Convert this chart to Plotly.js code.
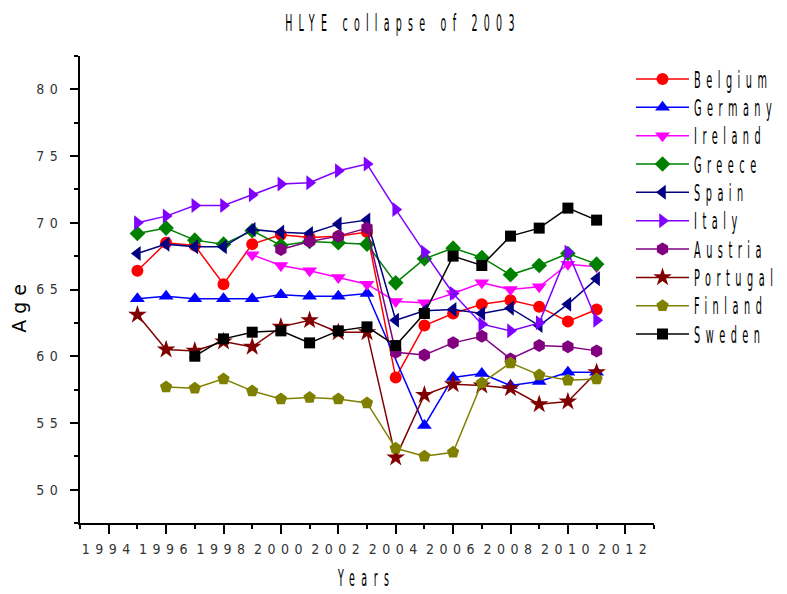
<!DOCTYPE html>
<html>
<head>
<meta charset="utf-8">
<script src="https://cdn.plot.ly/plotly-3.0.1.min.js"></script>
<style>
  html, body { margin: 0; padding: 0; background: #fff; }
  #chart { width: 787px; height: 594px; }
  .main-svg text.gtitle {
    letter-spacing: 12.5px;
    transform-box: fill-box; transform-origin: center;
    transform: scale(0.5, 1.2);
  }
  .main-svg text.legendtext {
    letter-spacing: 11px;
    transform-box: fill-box; transform-origin: left center;
    transform: scale(0.5, 1.17);
  }
  .main-svg text.xtitle {
    letter-spacing: 13px;
    transform-box: fill-box; transform-origin: center;
    transform: scale(0.5, 1.2);
  }
  .main-svg text.ytitle {
    letter-spacing: 6px;
    transform-box: fill-box; transform-origin: center;
    transform: translate(-3px, 23px) rotate(-90deg);
  }
  .main-svg .xtick text, .main-svg .ytick text { letter-spacing: 5.5px; }
</style>
</head>
<body>
<div id="chart"></div>
<script>
const years = [1995, 1996, 1997, 1998, 1999, 2000, 2001, 2002, 2003, 2004, 2005, 2006, 2007, 2008, 2009, 2010, 2011];

const belgium  = [66.4, 68.5, 68.3, 65.4, 68.4, 69.1, 68.9, 69.0, 69.3, 58.4, 62.3, 63.2, 63.9, 64.2, 63.7, 62.6, 63.5];
const germany  = [64.3, 64.5, 64.3, 64.3, 64.3, 64.6, 64.5, 64.5, 64.7, null, 54.8, 58.4, 58.7, 57.8, 58.1, 58.8, 58.8];
const ireland  = [null, null, null, null, 67.6, 66.8, 66.4, 65.9, 65.4, 64.1, 64.0, 64.7, 65.5, 65.0, 65.2, 66.9, 66.7];
const greece   = [69.2, 69.6, 68.7, 68.4, 69.4, 68.3, 68.6, 68.5, 68.4, 65.5, 67.3, 68.1, 67.4, 66.1, 66.8, 67.7, 66.9];
const spain    = [67.7, 68.4, 68.2, 68.2, 69.5, 69.3, 69.2, 69.9, 70.2, 62.7, 63.4, 63.5, 63.2, 63.6, 62.3, 63.9, 65.8];
const italy    = [70.0, 70.5, 71.3, 71.3, 72.1, 72.9, 73.0, 73.9, 74.4, 71.0, 67.8, 64.7, 62.4, 61.9, 62.5, 67.8, 62.7];
const austria  = [null, null, null, null, null, 68.0, 68.6, 69.0, 69.6, 60.3, 60.1, 61.0, 61.5, 59.8, 60.8, 60.7, 60.4];
const portugal = [63.1, 60.5, 60.4, 61.1, 60.7, 62.2, 62.7, 61.8, 61.8, 52.4, 57.1, 57.9, 57.8, 57.6, 56.4, 56.6, 58.8];
const finland  = [null, 57.7, 57.6, 58.3, 57.4, 56.8, 56.9, 56.8, 56.5, 53.1, 52.5, 52.8, 58.0, 59.5, 58.6, 58.2, 58.3];
const sweden   = [null, null, 60.0, 61.3, 61.8, 61.9, 61.0, 61.9, 62.2, 60.8, 63.2, 67.5, 66.8, 69.0, 69.6, 71.1, 70.2];

const seriesNames = ["Belgium", "Germany", "Ireland", "Greece", "Spain", "Italy", "Austria", "Portugal", "Finland", "Sweden"];
const seriesValues = [belgium, germany, ireland, greece, spain, italy, austria, portugal, finland, sweden];
const colors = ["#FF0000", "#0000FF", "#FF00FF", "#008000", "#000080", "#8000FF", "#800080", "#800000", "#808000", "#000000"];
const symbols = ["circle", "triangle-up", "triangle-down", "diamond", "triangle-left", "triangle-right", "hexagon", "star", "pentagon", "square"];
const sizes = [12, 13, 13, 12, 13, 13, 13, 14, 13, 11];

const xTickVals = [1994, 1996, 1998, 2000, 2002, 2004, 2006, 2008, 2010, 2012];
const yTickVals = [50, 55, 60, 65, 70, 75, 80];

const FONT = '"DejaVu Sans", sans-serif';
const TICKFONT = '"DejaVu Sans Condensed", "DejaVu Sans", sans-serif';

const traces = seriesNames.map((name, i) => ({
  type: 'scatter',
  mode: 'lines+markers',
  name: name,
  x: years,
  y: seriesValues[i],
  connectgaps: true,
  line: { color: colors[i], width: 1.5 },
  marker: { color: colors[i], symbol: symbols[i], size: sizes[i], line: { width: 0 } },
  legendgroup: name
}));

const layout = {
  width: 787,
  height: 594,
  paper_bgcolor: '#ffffff',
  plot_bgcolor: '#ffffff',
  margin: { l: 80, r: 133, t: 56, b: 71, autoexpand: false },
  font: { family: FONT, color: '#000000', size: 14 },
  title: {
    text: 'HLYE collapse of 2003',
    font: { family: FONT, size: 19, color: '#000000' },
    x: 0.512, xref: 'container', xanchor: 'center',
    y: 0.962, yref: 'container', yanchor: 'middle'
  },
  showlegend: true,
  legend: {
    xref: 'container', x: 0.8018, xanchor: 'left',
    yref: 'container', y: 0.8994, yanchor: 'top',
    bgcolor: 'rgba(0,0,0,0)',
    borderwidth: 0,
    font: { family: FONT, size: 19.5, color: '#000000' },
    itemwidth: 53,
    traceorder: 'normal'
  },
  xaxis: {
    range: [1993, 2013],
    tickmode: 'array',
    tickvals: xTickVals,
    ticktext: xTickVals.map(String),
    showgrid: false,
    zeroline: false,
    showline: true,
    linecolor: '#000000',
    linewidth: 2,
    mirror: false,
    automargin: false,
    ticks: 'outside',
    ticklen: 9,
    tickwidth: 2,
    tickcolor: '#000000',
    ticklabelstandoff: 3,
    tickfont: { family: TICKFONT, size: 14, color: '#333333' },
    minor: { dtick: 1, tick0: 1993, ticks: 'outside', ticklen: 4, tickwidth: 2, tickcolor: '#000000', showgrid: false },
    title: { text: 'Years', font: { family: FONT, size: 19, color: '#000000' }, standoff: 16 }
  },
  yaxis: {
    range: [47.5, 82.5],
    tickmode: 'array',
    tickvals: yTickVals,
    ticktext: yTickVals.map(String),
    showgrid: false,
    zeroline: false,
    showline: true,
    linecolor: '#000000',
    linewidth: 2,
    mirror: false,
    automargin: false,
    ticks: 'outside',
    ticklen: 8,
    tickwidth: 2,
    tickcolor: '#000000',
    ticklabelstandoff: 4,
    tickfont: { family: TICKFONT, size: 14, color: '#333333' },
    minor: { dtick: 2.5, tick0: 47.5, ticks: 'outside', ticklen: 4, tickwidth: 2, tickcolor: '#000000', showgrid: false },
    title: { text: 'Age', font: { family: FONT, size: 19, color: '#000000' }, standoff: 20 }
  }
};

Plotly.newPlot('chart', traces, layout, { displayModeBar: false, staticPlot: true });
</script>
</body>
</html>
